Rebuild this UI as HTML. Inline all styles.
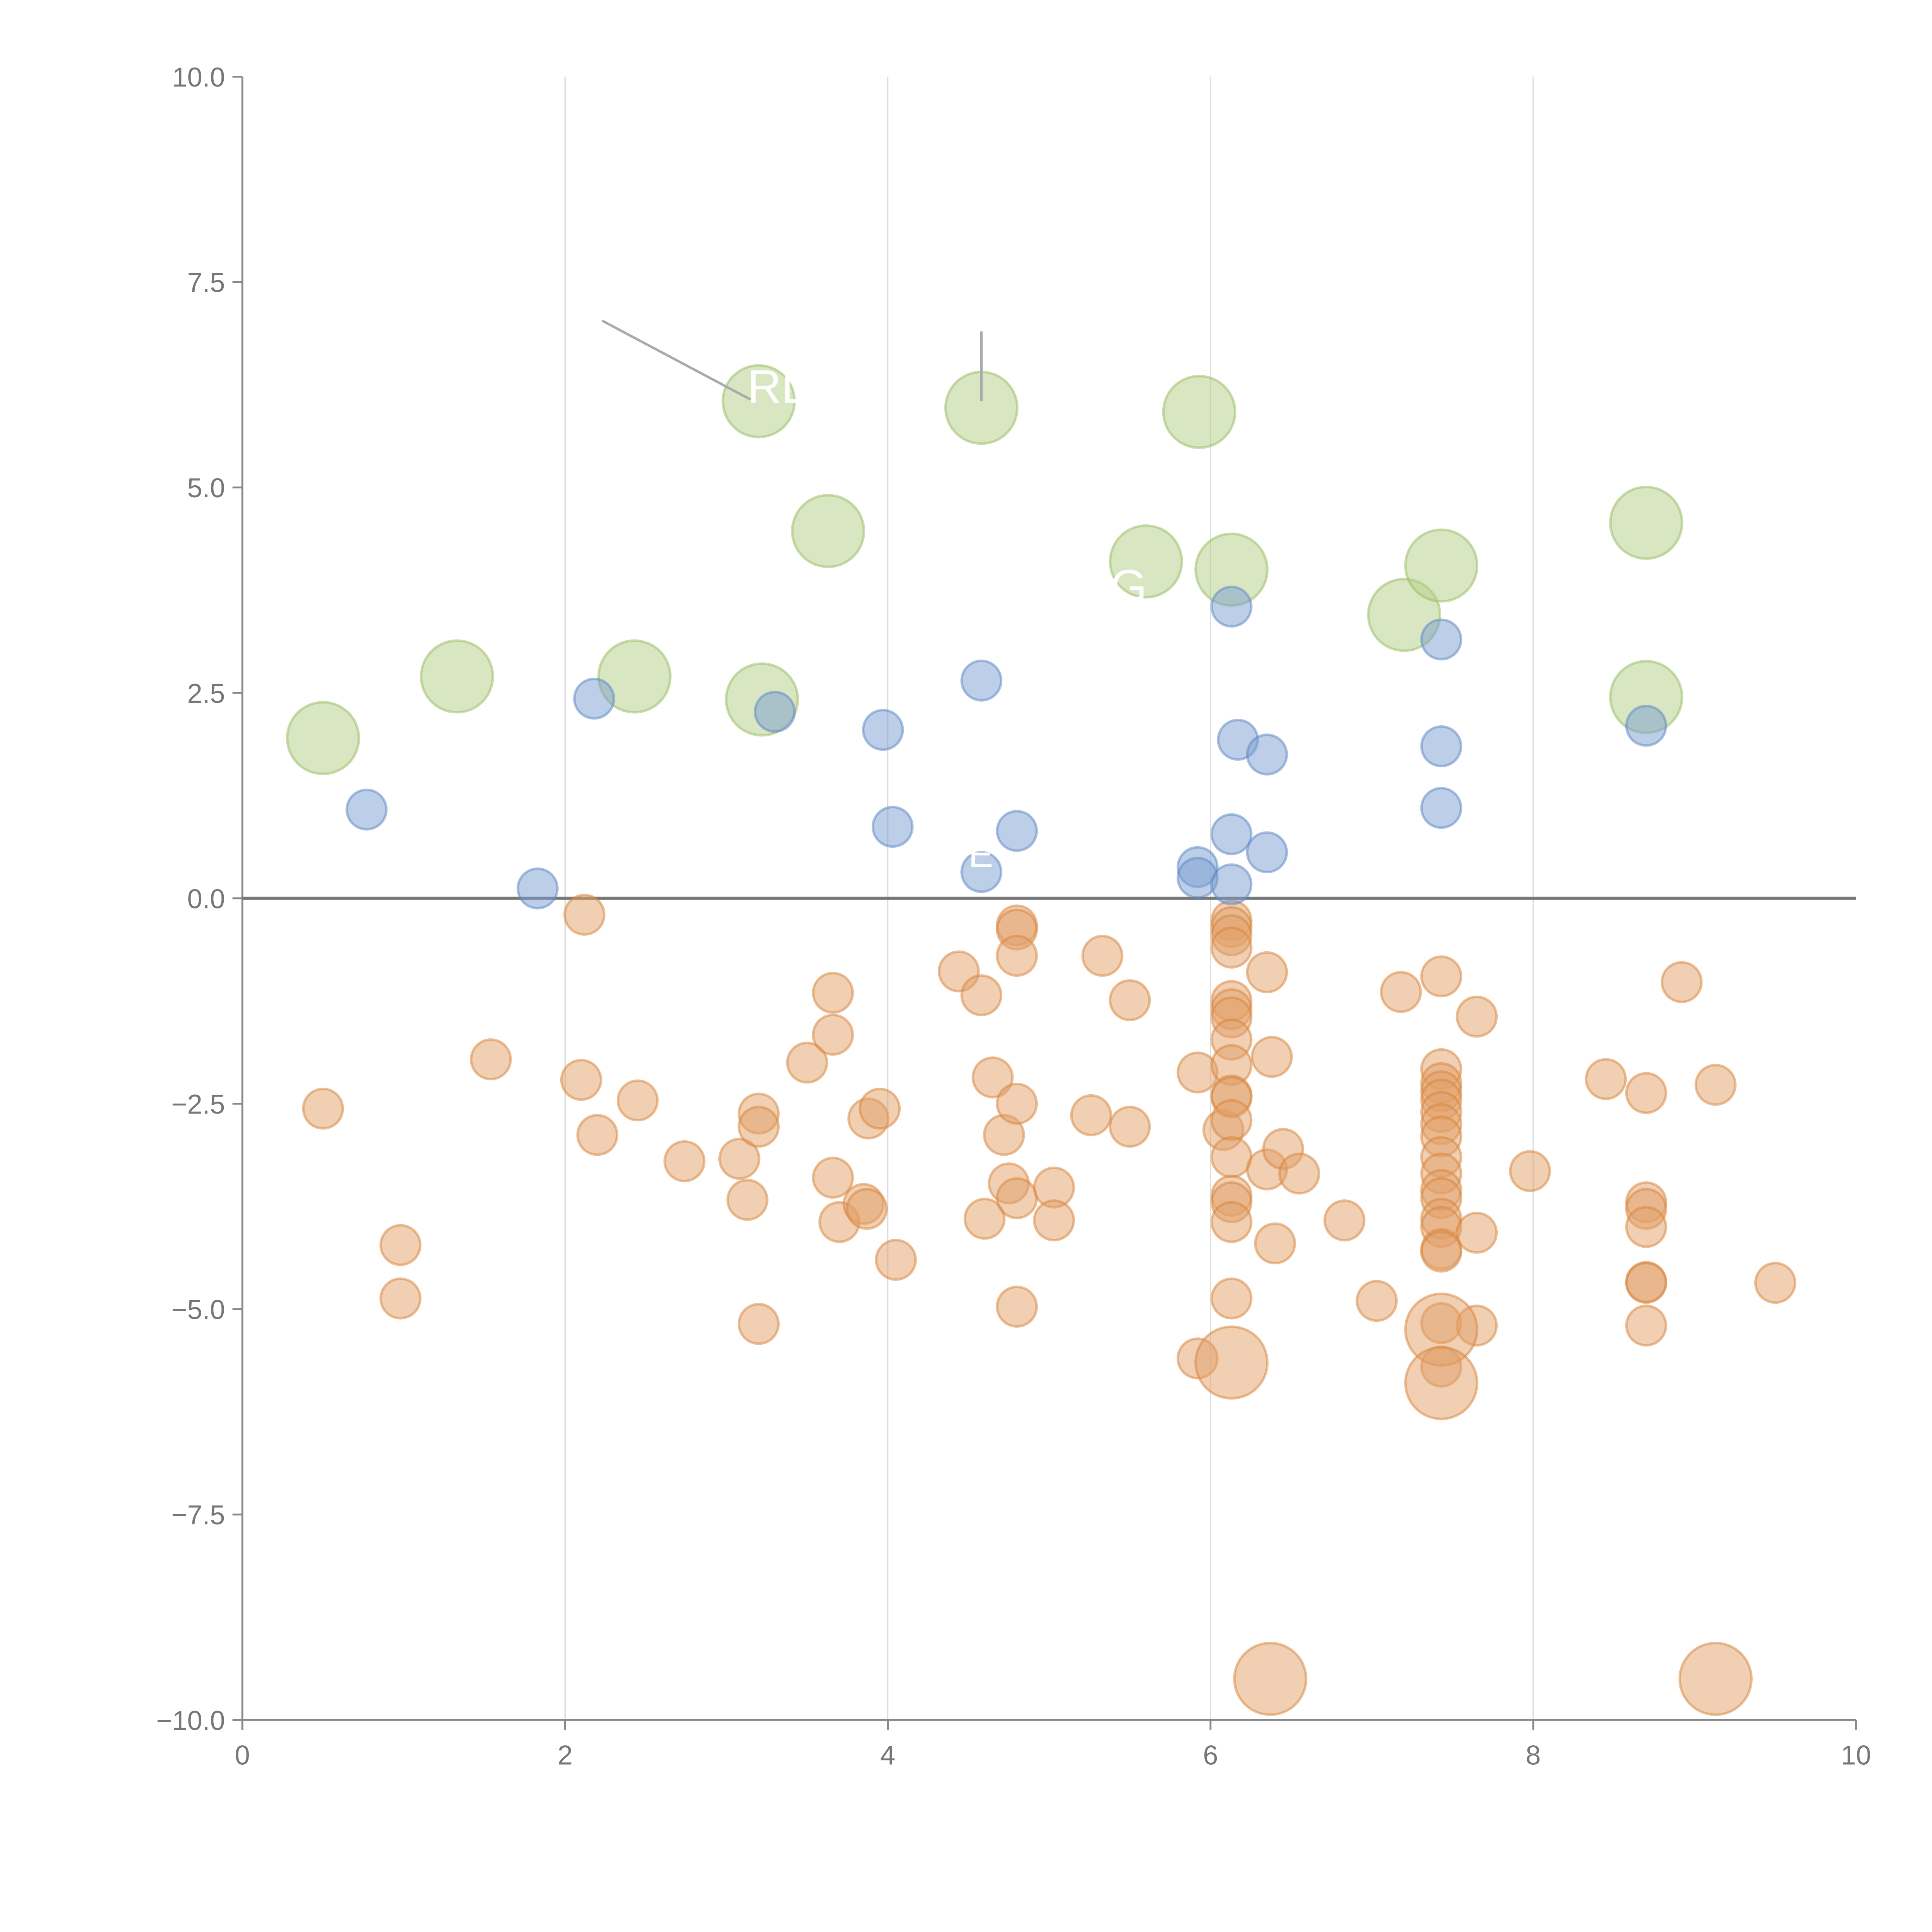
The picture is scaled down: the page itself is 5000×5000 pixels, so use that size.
<!DOCTYPE html>
<html><head><meta charset="utf-8"><style>
html,body{margin:0;padding:0;background:#fff;}
svg{display:block;font-family:"Liberation Sans",sans-serif;}
</style></head><body>
<svg id="chart" width="5000" height="5000" viewBox="0 0 1562.5 1562.5" xmlns="http://www.w3.org/2000/svg">
<g id="grid"></g>
<g id="axes"></g>
<g id="marks"></g>
<g id="annot"></g>
</svg>
<script>
const xTicks = [0, 2, 4, 6, 8, 10];
const yTicks = [10, 7.5, 5, 2.5, 0, -2.5, -5, -7.5, -10];
const yTickLabels = ["10.0", "7.5", "5.0", "2.5", "0.0", "\u22122.5", "\u22125.0", "\u22127.5", "\u221210.0"];

const greenX = [0.5, 1.33, 2.43, 3.2, 3.22, 3.63, 4.58, 5.6, 5.93, 6.13, 7.2, 7.43, 8.7, 8.7];
const greenY = [1.95, 2.7, 2.7, 6.05, 2.42, 4.47, 5.97, 4.1, 5.92, 4.0, 3.45, 4.05, 4.57, 2.45];

const blueX = [0.77, 1.83, 2.18, 3.3, 3.97, 4.03, 4.58, 4.58, 4.8, 5.92, 5.92, 6.13, 6.17, 6.35, 6.13, 6.13, 6.35, 7.43, 7.43, 7.43, 8.7];
const blueY = [1.08, 0.12, 2.43, 2.27, 2.05, 0.87, 2.65, 0.32, 0.82, 0.38, 0.25, 3.55, 1.93, 1.75, 0.78, 0.17, 0.56, 3.15, 1.85, 1.1, 2.1];

const orangeX = [0.5,0.98,0.98,1.54,2.12,2.1,2.2,2.45,2.74,3.08,3.13,3.2,3.2,3.2,3.5,3.66,3.66,3.66,3.7,3.85,3.87,3.88,3.95,4.05,4.44,4.58,4.6,4.65,4.72,4.75,4.8,4.8,4.8,4.8,4.8,4.8,5.03,5.03,5.26,5.33,5.5,5.5,5.92,5.92,6.08,
 6.13,6.13,6.13,6.13,6.13,6.13,6.13,6.13,6.13,6.13,6.13,6.13,6.13,6.13,6.13,6.13,6.13,
 6.35,6.35,6.38,6.4,6.45,6.55,6.83,7.03,7.18,
 7.43,7.43,7.43,7.43,7.43,7.43,7.43,7.43,7.43,7.43,7.43,7.43,7.43,7.43,7.43,7.43,7.43,7.43,
 7.65,7.65,7.65,7.98,8.45,8.7,8.7,8.7,8.7,8.7,8.7,8.7,8.92,9.13,9.5];
const orangeY = [-2.56,-4.22,-4.87,-1.96,-0.2,-2.21,-2.88,-2.46,-3.2,-3.17,-3.67,-2.62,-2.78,-5.18,-2.0,-1.15,-1.66,-3.4,-3.94,-3.72,-3.78,-2.68,-2.56,-4.4,-0.89,-1.18,-3.9,-2.18,-2.88,-3.47,-0.33,-0.38,-0.7,-2.5,-3.65,-4.97,-3.52,-3.92,-2.64,-0.7,-1.24,-2.78,-2.12,-5.6,-2.82,
 -0.27,-0.35,-0.45,-0.6,-1.25,-1.35,-1.45,-1.72,-2.03,-2.4,-2.42,-2.7,-3.15,-3.62,-3.7,-3.94,-4.87,
 -0.9,-3.3,-1.93,-4.2,-3.05,-3.35,-3.92,-4.9,-1.14,
 -0.95,-2.08,-2.25,-2.35,-2.45,-2.6,-2.75,-2.9,-3.15,-3.35,-3.55,-3.65,-3.9,-4.0,-4.27,-4.3,-5.17,-5.7,
 -1.44,-4.07,-5.2,-3.32,-2.2,-2.37,-3.7,-3.78,-4.0,-4.67,-4.68,-5.2,-1.02,-2.27,-4.68];

const bigOrangeX = [6.13, 6.37, 7.43, 7.43, 9.13];
const bigOrangeY = [-5.65, -9.5, -5.25, -5.9, -9.5];

const X0 = 196, X1 = 1501, Y0 = 1391, Y1 = 62;
function sx(v){ return X0 + (v - 0) / 10 * (X1 - X0); }
function sy(v){ return Y0 - (v + 10) / 20 * (Y0 - Y1); }
const NS = "http://www.w3.org/2000/svg";
function mk(tag, attrs, parent){ const e = document.createElementNS(NS, tag); for (const k in attrs) e.setAttribute(k, attrs[k]); parent.appendChild(e); return e; }

const grid = document.getElementById('grid');
xTicks.forEach(function(t){
  if (t === 0 || t === 10) return;
  const l = mk('line', {x1: sx(t), x2: sx(t), y1: Y1, y2: Y0, stroke: '#dddddd', 'stroke-width': 1}, grid);
  
  
});

const axes = document.getElementById('axes');
const ya = mk('line', {x1: X0, x2: X0, y1: Y1, y2: Y0 + 8, stroke: '#888', 'stroke-width': 1.5}, axes);


const xa = mk('line', {x1: X0 - 8, x2: X1, y1: Y0, y2: Y0, stroke: '#888', 'stroke-width': 1.5}, axes);


const zl = mk('line', {x1: X0, x2: X1, y1: sy(0), y2: sy(0), stroke: '#777', 'stroke-width': 2.5}, axes);



xTicks.forEach(function(t){
  const tk = mk('line', {x1: sx(t), x2: sx(t), y1: Y0, y2: Y0 + 8, stroke: '#888', 'stroke-width': 1.5}, axes);
  
  
  const tx = mk('text', {x: sx(t), y: Y0 + 36, 'text-anchor': 'middle', 'font-size': 22, fill: '#777'}, axes);
  tx.textContent = String(t);
  
  
});
yTicks.forEach(function(t, i){
  const tk = mk('line', {x1: X0 - 8, x2: X0, y1: sy(t), y2: sy(t), stroke: '#888', 'stroke-width': 1.5}, axes);
  
  
  const tx = mk('text', {x: X0 - 14, y: sy(t) + 8, 'text-anchor': 'end', 'font-size': 22, fill: '#777'}, axes);
  tx.textContent = yTickLabels[i];
  
  
});

const marks = document.getElementById('marks');
function drawSeries(xs, ys, r, fill, stroke, name){
  xs.forEach(function(x, i){
    const c = mk('circle', {cx: sx(x), cy: sy(ys[i]), r: r, fill: fill, 'fill-opacity': 0.5, stroke: stroke, 'stroke-opacity': 0.5, 'stroke-width': 2}, marks);
    
    
  });
}
drawSeries(orangeX, orangeY, 16, '#e1a068', '#d8843a', 'orange-point');
drawSeries(bigOrangeX, bigOrangeY, 29, '#e1a068', '#d8843a', 'orange-large-point');
drawSeries(greenX, greenY, 29, '#b2cd85', '#98bb60', 'green-point');
drawSeries(blueX, blueY, 16, '#7a9ed2', '#5b85c4', 'blue-point');

const annot = document.getElementById('annot');
const a1 = mk('line', {x1: sx(2.23), y1: sy(7.03), x2: sx(3.15), y2: sy(6.07), stroke: '#aaa', 'stroke-width': 2}, annot);


const a2 = mk('line', {x1: sx(4.58), y1: sy(6.9), x2: sx(4.58), y2: sy(6.05), stroke: '#aaa', 'stroke-width': 2}, annot);


const t1 = mk('text', {x: sx(3.13), y: sy(6.0) - 2, 'font-size': 38, fill: '#fff'}, annot);
t1.textContent = 'RL';


const t2 = mk('text', {x: sx(5.38), y: sy(3.6), 'font-size': 38, fill: '#fff'}, annot);
t2.textContent = 'G';


const t3 = mk('text', {x: sx(4.5), y: sy(0.38), 'font-size': 30, fill: '#fff'}, annot);
t3.textContent = 'E';


</script>
</body></html>
